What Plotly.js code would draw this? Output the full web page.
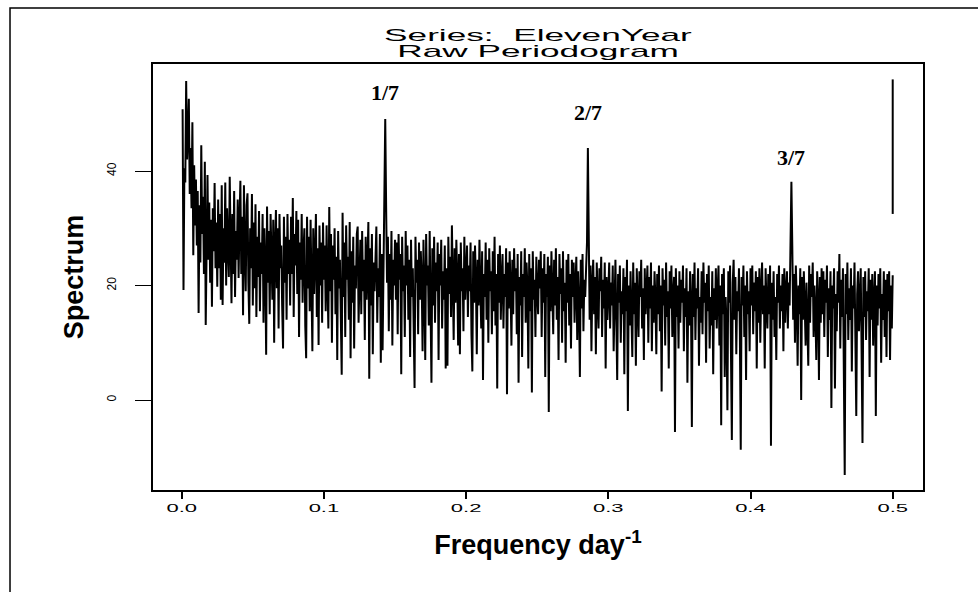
<!DOCTYPE html>
<html><head><meta charset="utf-8">
<script src="https://cdn.plot.ly/plotly-3.0.1.min.js"></script>
<style>
html,body{margin:0;padding:0;background:#fff;}
#chart{width:978px;height:592px;}
#chart g.g-gtitle{transform-box:fill-box;transform-origin:center;transform:scaleX(2.2);}
#chart g.annotation[data-index="0"]{transform-box:fill-box;transform-origin:center;transform:scaleX(2.2);}
#chart g.xtick{transform-box:fill-box;transform-origin:center;transform:scaleX(2);}
</style></head><body><div id="chart"></div>
<script>
// Raw periodogram values, 800 frequencies from 0.000625 to 0.5
const spectrumValues = [
  // 0.000 - 0.025
  50.8, 19.2, 40.5, 38.0, 55.7, 42.0, 46.5, 52.6, 36.0, 44.0, 33.5, 48.5, 25.3, 41.0, 30.5, 38.5, 27.0, 36.5, 15.2, 34.0,
  24.0, 44.5, 29.0, 35.5, 22.0, 41.6, 13.1, 33.0, 39.3, 24.5, 34.5, 20.5, 31.5, 16.3, 33.5, 26.0, 37.9, 23.0, 31.0, 19.8,
  // 0.025 - 0.050
  35.0, 23.0, 32.5, 17.5, 37.5, 16.6, 30.0, 24.0, 38.0, 20.0, 33.5, 27.0, 21.5, 39.0, 25.5, 16.9, 32.5, 22.0, 36.5, 18.0,
  29.5, 24.5, 35.0, 21.3, 31.0, 38.3, 22.0, 32.0, 14.8, 37.5, 26.0, 19.0, 34.0, 36.1, 20.5, 13.3, 30.0, 23.0, 36.0, 16.5,
  // 0.050 - 0.075
  31.0, 19.5, 34.2, 14.5, 28.5, 21.5, 33.0, 15.5, 27.5, 22.0, 32.5, 13.5, 30.0, 23.5, 7.9, 33.8, 20.5, 29.5, 15.0, 32.5,
  25.0, 17.5, 31.5, 10.0, 27.0, 33.2, 19.5, 30.0, 12.5, 32.5, 23.0, 27.0, 16.5, 9.0, 32.0, 20.5, 28.5, 14.0, 32.5, 22.0,
  // 0.075 - 0.100
  28.0, 16.5, 32.0, 22.0, 35.3, 14.5, 29.0, 23.5, 33.0, 18.5, 31.5, 11.0, 27.5, 21.0, 32.5, 17.0, 26.0, 30.0, 13.0, 7.3,
  32.0, 19.5, 28.5, 15.5, 31.5, 23.0, 8.5, 30.0, 18.5, 25.0, 32.5, 14.5, 26.5, 9.6, 30.5, 20.0, 27.5, 13.5, 31.0, 21.0,
  // 0.100 - 0.125
  27.0, 15.5, 30.5, 20.5, 12.5, 33.7, 19.0, 29.0, 10.0, 27.0, 21.0, 30.0, 15.0, 25.0, 7.0, 29.5, 19.5, 24.5, 12.5, 4.4,
  32.7, 18.0, 27.5, 11.0, 30.5, 21.0, 25.0, 14.0, 31.1, 7.3, 26.0, 17.0, 28.5, 9.0, 23.5, 19.5, 29.0, 30.3, 13.5, 22.5,
  // 0.125 - 0.150
  28.0, 15.0, 29.5, 19.0, 24.5, 10.5, 28.5, 17.5, 23.0, 31.1, 3.7, 26.5, 16.5, 29.0, 8.0, 24.0, 19.0, 28.0, 30.3, 13.5,
  23.0, 18.0, 29.0, 6.5, 25.5, 8.7, 27.0, 33.6, 49.1, 33.8, 20.5, 28.5, 12.0, 25.5, 17.5, 29.5, 9.5, 24.5, 20.0, 28.0,
  // 0.150 - 0.175
  17.5, 27.5, 11.5, 29.0, 21.0, 25.5, 4.5, 28.5, 19.0, 23.5, 11.0, 29.5, 20.0, 27.0, 14.0, 24.5, 7.5, 28.0, 18.0, 23.0,
  15.0, 2.1, 28.5, 20.5, 24.5, 11.5, 27.5, 17.5, 26.0, 21.0, 8.5, 28.0, 19.0, 7.0, 29.0, 20.0, 23.5, 13.0, 29.5, 18.0,
  // 0.175 - 0.200
  3.0, 26.5, 16.5, 28.5, 13.5, 24.0, 19.0, 27.5, 7.0, 25.5, 20.0, 28.0, 12.5, 22.5, 17.5, 27.0, 5.5, 23.0, 6.0, 28.5,
  18.5, 25.0, 14.5, 30.5, 21.0, 10.5, 26.5, 17.0, 28.0, 21.5, 9.5, 25.5, 8.0, 27.5, 19.0, 23.0, 12.0, 28.5, 17.5, 22.5,
  // 0.200 - 0.225
  27.0, 14.5, 23.5, 19.0, 27.5, 11.5, 5.0, 26.0, 17.0, 27.0, 21.0, 8.0, 24.5, 16.5, 28.0, 19.5, 12.5, 26.0, 3.5, 22.0,
  18.0, 27.5, 14.0, 24.5, 10.0, 26.5, 19.0, 22.5, 11.5, 26.0, 15.5, 28.5, 13.0, 22.0, 2.0, 25.5, 17.0, 27.0, 14.0, 21.0,
  // 0.225 - 0.250
  25.5, 12.5, 22.0, 18.0, 26.5, 1.0, 24.0, 16.0, 26.0, 19.5, 9.5, 24.5, 15.0, 26.5, 19.0, 23.0, 11.5, 25.5, 3.0, 21.5,
  16.5, 26.0, 7.5, 22.0, 18.0, 26.5, 13.5, 24.0, 19.5, 5.5, 25.5, 15.5, 23.0, 1.3, 26.0, 17.5, 21.0, 11.0, 25.0, 19.0,
  // 0.250 - 0.275
  15.0, 24.5, 19.5, 26.0, 11.0, 23.0, 17.0, 25.5, 4.0, 22.0, 18.0, 25.0, -2.1, 23.5, 15.5, 26.0, 20.5, 11.5, 24.5, 16.5,
  26.5, 14.0, 21.5, 7.0, 25.5, 18.5, 23.0, 10.0, 26.0, 15.5, 20.5, 6.5, 24.5, 17.0, 25.5, 13.0, 22.0, 9.0, 24.5, 18.0,
  // 0.275 - 0.300
  24.0, 13.5, 20.0, 25.0, 10.5, 22.5, 17.0, 4.0, 24.5, 16.0, 25.5, 12.0, 21.0, 18.0, 23.0, 27.5, 44.0, 26.0, 14.0, 23.5,
  8.5, 20.0, 24.5, 15.0, 21.5, 8.0, 24.0, 17.5, 12.5, 23.0, 19.0, 25.0, 11.0, 21.0, 16.0, 24.0, 5.5, 21.5, 14.0, 19.0,
  // 0.300 - 0.325
  24.0, 12.5, 20.5, 16.5, 23.5, 8.5, 19.5, 24.5, 14.0, 3.5, 22.0, 17.0, 23.5, 10.0, 19.0, 15.0, 23.0, 4.5, 21.5, 15.5,
  24.5, -1.9, 20.0, 13.0, 22.5, 17.0, 7.5, 24.0, 15.0, 20.5, 6.0, 23.0, 16.5, 11.0, 22.5, 18.0, 24.5, 12.5, 19.5, 7.0,
  // 0.325 - 0.350
  23.0, 15.0, 19.0, 23.5, 10.0, 21.5, 16.0, 24.0, 8.5, 20.0, 13.5, 22.5, 17.5, 8.0, 22.0, 15.0, 23.5, 12.0, 20.0, 1.5,
  23.0, 16.5, 21.0, 9.5, 24.0, 14.5, 19.0, 5.5, 22.5, 16.0, 23.5, 11.0, 18.5, 21.5, -5.6, 23.0, 14.5, 20.0, 9.0, 22.5,
  // 0.350 - 0.375
  13.5, 21.0, 17.0, 23.5, 8.5, 19.5, 14.5, 23.0, 3.0, 19.0, 13.0, 22.5, 17.0, -4.7, 22.0, 14.5, 24.0, 10.5, 19.5, 16.0,
  23.0, 6.0, 18.0, 13.5, 22.5, 11.5, 24.0, 17.0, 20.5, 6.5, 22.0, 15.5, 23.5, 9.0, 18.0, 13.0, 22.5, 4.5, 19.5, 14.0,
  // 0.375 - 0.400
  23.0, 12.5, 19.0, 23.5, 9.5, 20.0, -4.4, 22.0, 15.0, 23.0, 4.0, 18.0, 13.0, -1.8, 22.5, 17.0, 23.5, 10.0, -7.0, 20.5,
  24.5, 14.0, 21.5, 8.0, 19.0, 15.5, 23.0, 12.0, -8.7, 21.5, 16.5, 23.5, 11.0, 20.0, 3.5, 22.5, 15.0, 19.0, 8.5, 23.0,
  // 0.400 - 0.425
  16.5, 23.5, 11.5, 20.5, 15.5, 22.5, 5.5, 21.5, 13.5, 23.0, 10.0, 19.0, 24.0, 15.0, 20.0, 5.5, 23.0, 16.5, 12.5, 22.0,
  15.0, 23.5, -8.0, 20.5, 14.0, 22.5, 11.0, 18.0, 7.0, 22.0, 17.0, 23.5, 12.5, 20.0, 15.5, 22.0, 8.5, 23.0, 13.5, 19.0,
  // 0.425 - 0.450
  22.5, 12.5, 20.5, 16.5, 26.5, 38.1, 27.0, 14.0, 22.0, 10.0, 23.5, 17.5, 6.0, 20.0, 15.0, 23.0, 0.0, 21.5, 14.0, 22.5,
  16.5, 9.5, 20.5, 15.0, 6.0, 23.5, 13.5, 22.0, 18.0, 24.0, 11.0, 20.0, 15.5, 7.0, 22.5, 17.5, 3.5, 21.5, 13.5, 23.0,
  // 0.450 - 0.475
  15.0, 22.5, 11.0, 21.0, 17.0, 23.5, 7.5, 19.5, 14.0, 22.5, -1.4, 20.0, 16.0, 23.0, 2.0, 18.5, 12.0, 22.5, 17.0, 25.5,
  9.0, 21.0, 14.5, 23.0, 9.0, -13.1, 22.0, 15.0, 24.0, 10.5, 19.5, 14.0, 23.0, 5.0, 20.0, 16.0, 24.0, 9.5, -2.8, 18.5,
  // 0.475 - 0.500
  22.5, 12.0, 20.0, 23.0, 8.0, -7.5, 21.5, 14.5, 22.5, 10.5, 19.0, 15.5, 23.0, 4.0, 21.0, 14.0, 22.0, 9.5, 17.5, 22.5,
  -2.8, 20.0, 13.0, 22.0, 16.0, 23.0, 6.5, 18.5, 14.0, 22.5, 11.0, 21.0, 7.5, 22.0, 15.5, 22.5, 7.0, 20.0, 12.5, 21.8
];
const nyquist = 0.5;
const frequencies = spectrumValues.map((v, i) => (i + 1) * nyquist / spectrumValues.length);

// Separate stroke drawn at the Nyquist frequency
const endFreq = [0.5, 0.5];
const endValues = [56.0, 32.5];

// Harmonic labels
const labelText = ["1/7", "2/7", "3/7"];
const labelFreq = [1/7, 2/7, 3/7];
const labelY = [53.8, 50.3, 42.4];

const xTickVals = [0, 0.1, 0.2, 0.3, 0.4, 0.5];
const xTickText = ["0.0", "0.1", "0.2", "0.3", "0.4", "0.5"];
const yTickVals = [0, 20, 40];
const yTickText = ["0", "20", "40"];

const titleLine1 = "Series:\u00A0 ElevenYear";
const titleLine2 = "Raw Periodogram";

const sans = "Liberation Sans, Arial, Helvetica, sans-serif";
const serif = "Liberation Serif, Times New Roman, serif";

const traces = [
  {x: frequencies, y: spectrumValues, type: "scatter", mode: "lines",
   line: {color: "#000", width: 2}, hoverinfo: "skip"},
  {x: endFreq, y: endValues, type: "scatter", mode: "lines",
   line: {color: "#000", width: 2}, hoverinfo: "skip"}
];

const annotations = [{
  x: 0.5, y: 1.0282, xref: "paper", yref: "paper", text: titleLine2, showarrow: false,
  xanchor: "center", yanchor: "middle",
  font: {family: sans, size: 16, color: "#000"}
}].concat(labelText.map((t, i) => ({
  x: labelFreq[i], y: labelY[i], xref: "x", yref: "y", text: t, showarrow: false,
  font: {family: serif, size: 22, color: "#000", weight: "bold"}
})));

const layout = {
  width: 978, height: 592,
  margin: {l: 153, r: 55, t: 64, b: 102},
  paper_bgcolor: "#fff", plot_bgcolor: "#fff",
  showlegend: false,
  title: {text: titleLine1,
          font: {family: sans, size: 16, color: "#000"},
          x: 0.5, xref: "paper", y: 1 - 35/592, yref: "container", yanchor: "middle"},
  xaxis: {range: [-0.0202, 0.5213], tickvals: xTickVals, ticktext: xTickText,
          ticks: "outside", ticklen: 7, tickwidth: 2, tickcolor: "#000",
          tickfont: {family: sans, size: 11, color: "#000"},
          showline: true, mirror: true, linewidth: 2, linecolor: "#000",
          showgrid: false, zeroline: false,
          title: {text: "Frequency day<sup>-1</sup>", standoff: 22,
                  font: {family: sans, size: 27, color: "#000", weight: "bold"}}},
  yaxis: {range: [-15.72, 58.69], tickvals: yTickVals, ticktext: yTickText,
          ticks: "outside", ticklen: 16, tickwidth: 1, tickcolor: "#000", tickangle: -90,
          ticklabelstandoff: 14,
          tickfont: {family: sans, size: 12, color: "#000"},
          showline: true, mirror: true, linewidth: 2, linecolor: "#000",
          showgrid: false, zeroline: false,
          title: {text: "Spectrum", standoff: 14,
                  font: {family: sans, size: 27, color: "#000", weight: "bold"}}},
  annotations: annotations,
  shapes: [{type: "rect", xref: "paper", yref: "paper",
            x0: -0.1857, x1: 1.2, y0: -0.3, y1: 1.1315,
            line: {color: "#000", width: 1.5}, fillcolor: "rgba(0,0,0,0)"}]
};

Plotly.newPlot("chart", traces, layout, {staticPlot: true, displayModeBar: false});
</script></body></html>
